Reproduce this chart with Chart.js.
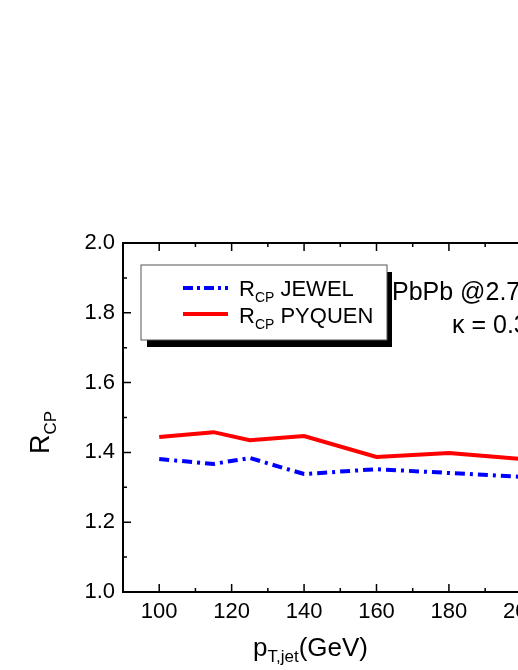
<!DOCTYPE html>
<html><head><meta charset="utf-8">
<script src="https://cdn.jsdelivr.net/npm/chart.js@4"></script>
<style>html,body{margin:0;padding:0;overflow:hidden;background:#fff}canvas{display:block}</style>
</head><body><canvas id="c" width="660" height="670"></canvas>
<script>
const ptJewel = [100,115,125,140,160,180,200,215];
const rcpJewel = [1.381,1.367,1.384,1.338,1.352,1.341,1.330,1.325];
const ptPyquen = [100,115,125,140,160,180,200,215];
const rcpPyquen = [1.444,1.458,1.435,1.447,1.387,1.398,1.381,1.375];
const xTicks = [100,120,140,160,180,200,220];
const yTicks = [1.0,1.2,1.4,1.6,1.8,2.0];
const F = '"Liberation Sans", Arial, sans-serif';

const deco = {
  id:'deco',
  afterDraw(ch){
    const c=ch.ctx, a=ch.chartArea, xs=ch.scales.x, ys=ch.scales.y;
    c.save();
    c.strokeStyle='#000'; c.lineWidth=2;
    c.strokeRect(a.left,a.top,a.right-a.left,a.bottom-a.top);
    c.lineWidth=1.5;
    for(let v=90; v<=230; v+=10){
      const x=xs.getPixelForValue(v), L=(v%20===0)?8:4;
      c.beginPath(); c.moveTo(x,a.bottom); c.lineTo(x,a.bottom-L);
      c.moveTo(x,a.top); c.lineTo(x,a.top+L); c.stroke();
    }
    for(let v=1.0; v<=2.0001; v+=0.1){
      const y=ys.getPixelForValue(v), L=(Math.round(v*10)%2===0)?8:4;
      c.beginPath(); c.moveTo(a.left,y); c.lineTo(a.left+L,y);
      c.moveTo(a.right,y); c.lineTo(a.right-L,y); c.stroke();
    }
    c.fillStyle='#000'; c.font='22px '+F;
    c.textAlign='center'; c.textBaseline='top';
    xTicks.forEach(v=>c.fillText(String(v), xs.getPixelForValue(v), a.bottom+9));
    c.textAlign='right'; c.textBaseline='middle';
    yTicks.forEach(v=>c.fillText(v.toFixed(1), a.left-8, ys.getPixelForValue(v)));
    // x title
    c.textAlign='left'; c.textBaseline='alphabetic';
    let x0=253, yb=656;
    c.font='26px '+F; c.fillText('p',x0,yb); let w=c.measureText('p').width;
    c.font='17px '+F; c.fillText('T,jet',x0+w,yb+6); let w2=c.measureText('T,jet').width;
    c.font='26px '+F; c.fillText('(GeV)',x0+w+w2,yb);
    // y title
    c.save(); c.translate(49,432); c.rotate(-Math.PI/2);
    c.font='27px '+F; c.fillText('R',-22,0); w=c.measureText('R').width;
    c.font='17px '+F; c.fillText('CP',-22+w,7);
    c.restore();
    // legend
    c.fillStyle='#000'; c.fillRect(147,272,245,75);
    c.fillStyle='#fff'; c.fillRect(141,265,246,75);
    c.strokeStyle='#555'; c.lineWidth=1; c.strokeRect(141,265,246,75);
    c.lineWidth=4;
    c.strokeStyle='#0000ff'; c.setLineDash([10,4,3,4]);
    c.beginPath(); c.moveTo(183,288); c.lineTo(228,288); c.stroke();
    c.setLineDash([]); c.strokeStyle='#ff0000';
    c.beginPath(); c.moveTo(183,314); c.lineTo(228,314); c.stroke();
    c.fillStyle='#000';
    [['JEWEL',296],['PYQUEN',323]].forEach(([t,y])=>{
      c.font='22px '+F; c.fillText('R',239,y); const r=c.measureText('R').width;
      c.font='14px '+F; c.fillText('CP',239+r,y+6); const s=c.measureText('CP').width;
      c.font='22px '+F; c.fillText(' '+t,239+r+s,y);
    });
    c.font='25px '+F; c.fillText('PbPb @2.76 TeV',392,300);
    c.fillText('\u03BA = 0.35',452,333);
    c.restore();
  }
};

new Chart(document.getElementById('c'),{
  type:'line',
  data:{datasets:[
    {label:'RCP JEWEL',data:ptJewel.map((x,i)=>({x,y:rcpJewel[i]})),borderColor:'#0000ff',borderWidth:4,borderDash:[10,5,3,5],pointRadius:0,tension:0},
    {label:'RCP PYQUEN',data:ptPyquen.map((x,i)=>({x,y:rcpPyquen[i]})),borderColor:'#ff0000',borderWidth:4,pointRadius:0,tension:0}
  ]},
  options:{
    responsive:false,animation:false,
    layout:{padding:{left:123,top:243,right:30,bottom:78}},
    plugins:{legend:{display:false},tooltip:{enabled:false}},
    scales:{
      x:{type:'linear',min:90,max:230,display:false},
      y:{min:1.0,max:2.0,display:false}
    }
  },
  plugins:[deco]
});
</script></body></html>
